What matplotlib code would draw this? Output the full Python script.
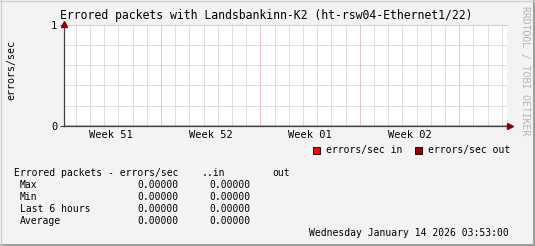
import matplotlib
matplotlib.use("Agg")
import matplotlib.pyplot as plt
from matplotlib.patches import Rectangle
from matplotlib.lines import Line2D

# chart data
title = "Errored packets with Landsbankinn-K2 (ht-rsw04-Ethernet1/22)"
y_label = "errors/sec"
# time axis in days since Monday Dec 15 2025 00:00
t_start = 0.19
t_end = 31.35
t_points = [0.19, 7.0, 14.0, 21.0, 28.0, 31.35]
in_values = [0.0, 0.0, 0.0, 0.0, 0.0, 0.0]
out_values = [0.0, 0.0, 0.0, 0.0, 0.0, 0.0]
week_labels = ["Week 51", "Week 52", "Week 01", "Week 02"]
week_centers = [3.5, 10.5, 17.5, 24.5]
week_starts = [7, 14, 21, 28]
y_ticks = [0, 1]
series_names = ["errors/sec in", "errors/sec out"]
series_colors = ["#ff0000", "#990000"]
stat_rows = ["Max", "Min", "Last 6 hours", "Average"]
stat_in = [0.0, 0.0, 0.0, 0.0]
stat_out = [0.0, 0.0, 0.0, 0.0]
timestamp = "Wednesday January 14 2026 03:53:00"

W, H = 535, 246
MONO = "DejaVu Sans Mono"
plt.rcParams['font.family'] = MONO


def fx(px):
    return px / W


def fy(py):
    return 1 - py / H


fig = plt.figure(figsize=(W / 100, H / 100), dpi=100, facecolor="#f3f3f3")
ax = fig.add_axes([fx(64.3), fy(125.7), (506.7 - 64.3) / W, (125.7 - 25) / H])
ax.set_facecolor("white")
ax.set_xlim(t_start, t_end)
ax.set_ylim(0, 1)

dot = (0, (1, 1))
# minor grid (days) and major grid (weeks)
for d in range(1, 32):
    if d > t_end:
        break
    if d in week_starts:
        ax.axvline(d, color="#d98c8c", lw=0.72, ls=dot, zorder=1)
    else:
        ax.axvline(d, color="#c4c4c4", lw=0.72, ls=dot, zorder=1)
for v in [0.2, 0.4, 0.6, 0.8]:
    ax.axhline(v, color="#c4c4c4", lw=0.72, ls=dot, zorder=1)
ax.axhline(1.0, color="#d98c8c", lw=0.72, ls=dot, zorder=1, clip_on=False)

ax.plot(t_points, in_values, color=series_colors[0], lw=1, zorder=2)
ax.plot(t_points, out_values, color=series_colors[1], lw=1, zorder=2)

for s in ["top", "right"]:
    ax.spines[s].set_visible(False)
for s in ["left", "bottom"]:
    ax.spines[s].set_color("#404040")
    ax.spines[s].set_linewidth(0.9)
    ax.spines[s].set_zorder(3)

ax.set_yticks(y_ticks)
ax.set_yticklabels([str(v) for v in y_ticks], fontsize=7.5)
ax.tick_params(axis="y", length=3, width=0.8, color="#404040", pad=2)
ax.set_xticks(week_centers)
ax.set_xticklabels(week_labels, fontsize=7.5)
ax.tick_params(axis="x", length=0, pad=3)

# axis arrows
ax.plot([1.0 + 3 / 442], [0], marker=">", ms=4, color="#8b0000",
        transform=ax.transAxes, clip_on=False, zorder=4)
ax.plot([0], [1.0 + 1 / 100], marker="^", ms=4, color="#8b0000",
        transform=ax.transAxes, clip_on=False, zorder=4)

fig.text(fx(266), fy(15), title, fontsize=8.3, ha="center", va="center", color="#000000")
fig.text(fx(11), fy(70), y_label, fontsize=7.2, rotation=90, ha="center", va="center")
fig.text(fx(525), fy(71), "RRDTOOL / TOBI OETIKER", fontsize=7, rotation=270,
         ha="center", va="center", color="#b4b4b4")

# legend
leg_x = [313, 415]
leg_tx = [326, 428]
for i, name in enumerate(series_names):
    fig.patches.append(Rectangle((fx(leg_x[i]), fy(153.5)), 7 / W, 7 / H,
                                 transform=fig.transFigure, facecolor=series_colors[i],
                                 edgecolor="black", lw=0.6))
    fig.text(fx(leg_tx[i]), fy(150.5), name, fontsize=7, ha="left", va="center")

# stats table
fig.text(fx(14), fy(173.5), "Errored packets - errors/sec", fontsize=7, ha="left", va="center")
fig.text(fx(202), fy(173.5), "..in", fontsize=7, ha="left", va="center")
fig.text(fx(272), fy(173.5), "out", fontsize=7, ha="left", va="center")
for i, row in enumerate(stat_rows):
    yy = fy(185.5 + 12 * i)
    fig.text(fx(20), yy, row, fontsize=7, ha="left", va="center")
    fig.text(fx(178), yy, f"{stat_in[i]:.5f}", fontsize=7, ha="right", va="center")
    fig.text(fx(250), yy, f"{stat_out[i]:.5f}", fontsize=7, ha="right", va="center")
fig.text(fx(509), fy(233), timestamp, fontsize=7, ha="right", va="center")

# frame
fig.lines.append(Line2D([0, 1], [fy(245), fy(245)], transform=fig.transFigure,
                        color="#9e9e9e", lw=1.5))
fig.lines.append(Line2D([fx(534), fx(534)], [0, 1], transform=fig.transFigure,
                        color="#9e9e9e", lw=1.5))
fig.lines.append(Line2D([0, 1], [fy(0.5), fy(0.5)], transform=fig.transFigure,
                        color="#d0d0d0", lw=1))
fig.lines.append(Line2D([fx(0.5), fx(0.5)], [0, 1], transform=fig.transFigure,
                        color="#d0d0d0", lw=1))

fig.savefig("out.png", dpi=100, facecolor=fig.get_facecolor())
